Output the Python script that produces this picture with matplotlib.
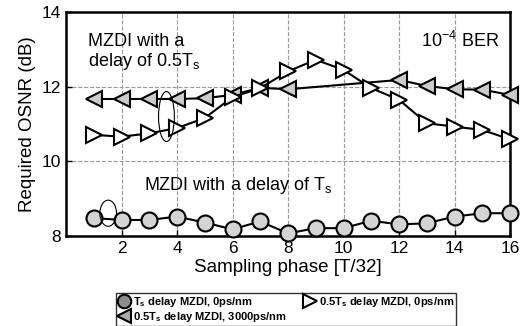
import numpy as np
import matplotlib
matplotlib.use("Agg")
import matplotlib.pyplot as plt
from matplotlib.patches import Ellipse

plt.rcParams['font.family'] = ['Liberation Sans', 'DejaVu Sans']
plt.rcParams['mathtext.fontset'] = 'custom'
plt.rcParams['mathtext.rm'] = 'Liberation Sans'
plt.rcParams['mathtext.it'] = 'Liberation Sans'

# datos
fase = np.arange(1, 17)
osnr_ts = [8.48, 8.43, 8.43, 8.52, 8.36, 8.18, 8.39, 8.07,
           8.21, 8.21, 8.41, 8.31, 8.34, 8.52, 8.61, 8.61]
osnr_half = [10.71, 10.66, 10.75, 10.89, 11.16, 11.72, 11.96, 12.41,
             12.72, 12.45, 11.96, 11.65, 11.02, 10.93, 10.84, 10.59]
fase_disp = [1, 2, 3, 4, 5, 6, 7, 8, 12, 13, 14, 15, 16]
osnr_disp = [11.67, 11.67, 11.67, 11.67, 11.69, 11.78, 11.97, 11.93,
             12.18, 12.02, 11.93, 11.92, 11.78]

etiquetas = ["T$_\\mathregular{s}$ delay MZDI, 0ps/nm",
             "0.5T$_\\mathregular{s}$ delay MZDI, 3000ps/nm",
             "0.5T$_\\mathregular{s}$ delay MZDI, 0ps/nm"]

fig = plt.figure(figsize=(5.26, 3.26), dpi=100)
ax = fig.add_axes([66/526, 1 - 236/326, (510 - 66)/526, (236 - 12)/326])

l1, = ax.plot(fase, osnr_ts, color='black', lw=1.5, marker='o', ms=11.5,
              mfc='#d4d4d4', mec='black', mew=1.5, clip_on=False, zorder=3)
l2, = ax.plot(fase_disp, osnr_disp, color='black', lw=1.5, marker='<', ms=12,
              mfc='#cccccc', mec='black', mew=1.5, clip_on=False, zorder=3)
l3, = ax.plot(fase, osnr_half, color='black', lw=1.5, marker='>', ms=12,
              mfc='white', mec='black', mew=1.5, clip_on=False, zorder=4)

ax.set_xlim(0, 16)
ax.set_ylim(8, 14)
ax.set_xticks(range(2, 17, 2))
ax.set_yticks([8, 10, 12, 14])
ax.tick_params(direction='in', labelsize=12.5, length=4, width=1)
ax.grid(True, linestyle='--', color='#999999', lw=0.8)
for s in ax.spines.values():
    s.set_linewidth(1.8)
ax.set_xlabel("Sampling phase [T/32]", fontsize=13.5, labelpad=2)
ax.set_ylabel("Required OSNR (dB)", fontsize=13.5, labelpad=4)

# anotaciones
ax.text(0.8, 13.45, "MZDI with a\ndelay of 0.5T$_\\mathregular{s}$", fontsize=13,
        va='top', ha='left', linespacing=1.1)
ax.text(15.6, 13.5, "10$^{-4}$ BER", fontsize=13, va='top', ha='right')
ax.text(2.8, 9.35, "MZDI with a delay of T$_\\mathregular{s}$", fontsize=13,
        va='center', ha='left')
ax.add_patch(Ellipse((3.62, 11.2), 0.57, 1.34, fill=False, lw=0.8, zorder=5))
ax.add_patch(Ellipse((1.52, 8.61), 0.6, 0.7, fill=False, lw=0.8, zorder=5))

leg = fig.legend([l1, l2, l3], etiquetas, ncol=2, loc='upper center',
                 bbox_to_anchor=(286/526, 1 - 287/326),
                 prop={'weight': 'bold', 'size': 8}, frameon=True, fancybox=False,
                 edgecolor='black', handlelength=1.0, handletextpad=0.3,
                 columnspacing=1.6, borderpad=0.2, labelspacing=0.1,
                 markerscale=0.85)
leg.get_frame().set_linewidth(1.0)
for h in leg.legend_handles:
    h.set_linestyle('None')
leg.legend_handles[0].set_markerfacecolor('#8c8c8c')
leg.legend_handles[1].set_markerfacecolor('#aaaaaa')

fig.savefig("out.png", dpi=100)
